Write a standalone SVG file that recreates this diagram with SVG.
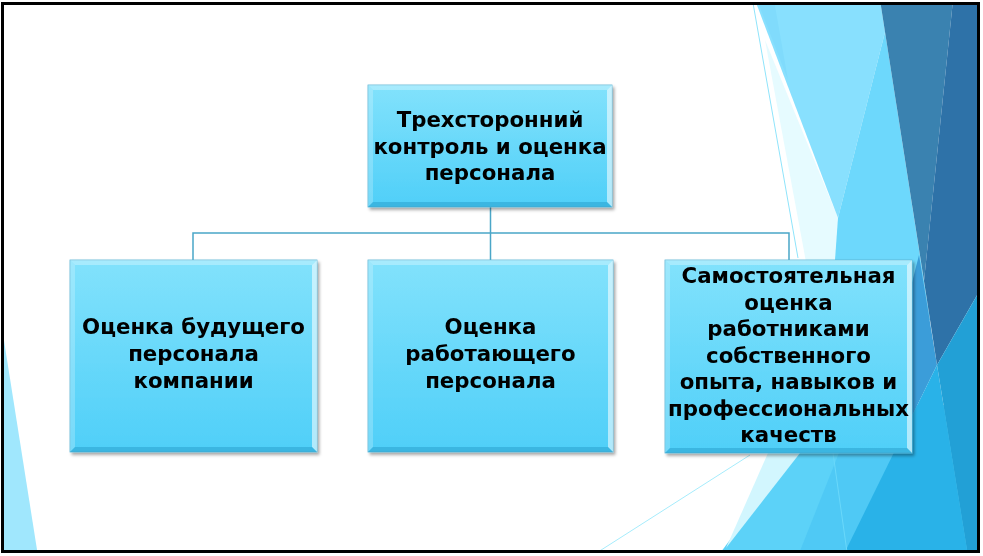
<svg xmlns="http://www.w3.org/2000/svg" width="983" height="556" viewBox="0 0 983 556">
<defs>
<style>
.t{font-family:"DejaVu Sans","Verdana",sans-serif;font-weight:bold;font-size:21.3px;fill:#000;text-anchor:middle}
.conn{fill:none;stroke:#4aa6c8;stroke-width:1.5}
.bt{fill:#fff;opacity:.3}
.bl{fill:#fff;opacity:.22}
.br{fill:#fff;opacity:.55}
.bb{fill:#1588b8;opacity:.35}
.box{fill:url(#g);stroke:#5ab6d6;stroke-width:.8}
</style>
<linearGradient id="g" x1="0" y1="0" x2="0" y2="1">
<stop offset="0" stop-color="#82e2fc"/>
<stop offset="1" stop-color="#4fcff8"/>
</linearGradient>
<filter id="sh" x="-10%" y="-10%" width="125%" height="125%">
<feDropShadow dx="2" dy="2.5" stdDeviation="1.8" flood-color="#000" flood-opacity=".35"/>
</filter>
<clipPath id="cp"><rect x="3" y="4" width="975" height="547"/></clipPath>
</defs>
<rect width="983" height="556" fill="#fff"/>
<g id="decor" clip-path="url(#cp)">
<polygon points="2,328 2,556 38,556" fill="#a0e7fd"/>
<polygon points="718,556 830,405 980,405 980,556" fill="#5cd2f8"/>
<polygon points="798,556 845,556 912,420 858,405" fill="#4fc9f5"/>
<polygon points="768,453 800,453 726,548" fill="#d2f6fe"/>
<polygon points="765,40 838,218 850,262 806,262" fill="#e6fbff"/>
<polygon points="755,0 880,0 885,32 838,218" fill="#88e0fe"/>
<polygon points="757,0 774,0 788,80" fill="#80dbfc"/>
<polygon points="885,32 930,320 912,330 830,330 838,218" fill="#6dd8fc"/>
<polygon points="919,255 937,365 912,416 900,330" fill="#3b9dd9"/>
<polygon points="880,0 953,0 924,281" fill="#3a82b0"/>
<polygon points="953,0 980,0 980,290 937,365 924,281" fill="#2e72a8"/>
<polygon points="937,365 968,556 843,556" fill="#29b2e8"/>
<polygon points="980,290 937,365 968,556 980,556" fill="#22a0d6"/>
<line x1="753" y1="3" x2="798" y2="258" stroke="#8fe4fb" stroke-width="1"/>
<line x1="598" y1="552" x2="750" y2="455" stroke="#a6ecfc" stroke-width="1"/>
<line x1="833" y1="453" x2="847" y2="552" stroke="#6ad8fa" stroke-width="1"/>
</g>
<rect x="2.5" y="3.5" width="976" height="548" fill="none" stroke="#000" stroke-width="3"/>
<g id="connectors">
<path class="conn" d="M490.5 207V233M193 260V233H789V260M490.5 233V260"/>
</g>
<g id="n-top" filter="url(#sh)">
<rect class="box" x="368" y="85" width="244" height="122"/>
<polygon class="bt" points="368,85 612,85 607,90 373,90"/>
<polygon class="bl" points="368,85 373,90 373,202 368,207"/>
<polygon class="br" points="612,85 612,207 607,202 607,90"/>
<polygon class="bb" points="368,207 612,207 607,202 373,202"/>
<text class="t" x="490" y="127">Трехсторонний</text>
<text class="t" x="490" y="153.5">контроль и оценка</text>
<text class="t" x="490" y="180">персонала</text>
</g>
<g id="n-left" filter="url(#sh)">
<rect class="box" x="70" y="260" width="247" height="192"/>
<polygon class="bt" points="70,260 317,260 312,265 75,265"/>
<polygon class="bl" points="70,260 75,265 75,447 70,452"/>
<polygon class="br" points="317,260 317,452 312,447 312,265"/>
<polygon class="bb" points="70,452 317,452 312,447 75,447"/>
<text class="t" x="193.5" y="334">Оценка будущего</text>
<text class="t" x="193.5" y="361">персонала</text>
<text class="t" x="193.5" y="388">компании</text>
</g>
<g id="n-mid" filter="url(#sh)">
<rect class="box" x="368" y="260" width="245" height="192"/>
<polygon class="bt" points="368,260 613,260 608,265 373,265"/>
<polygon class="bl" points="368,260 373,265 373,447 368,452"/>
<polygon class="br" points="613,260 613,452 608,447 608,265"/>
<polygon class="bb" points="368,452 613,452 608,447 373,447"/>
<text class="t" x="490.5" y="334">Оценка</text>
<text class="t" x="490.5" y="361">работающего</text>
<text class="t" x="490.5" y="388">персонала</text>
</g>
<g id="n-right" filter="url(#sh)">
<rect class="box" x="665" y="260" width="247" height="193"/>
<polygon class="bt" points="665,260 912,260 907,265 670,265"/>
<polygon class="bl" points="665,260 670,265 670,448 665,453"/>
<polygon class="br" points="912,260 912,453 907,448 907,265"/>
<polygon class="bb" points="665,453 912,453 907,448 670,448"/>
<text class="t" x="788.5" y="283">Самостоятельная</text>
<text class="t" x="788.5" y="309.5">оценка</text>
<text class="t" x="788.5" y="336">работниками</text>
<text class="t" x="788.5" y="362.5">собственного</text>
<text class="t" x="788.5" y="389">опыта, навыков и</text>
<text class="t" x="788.5" y="415.5">профессиональных</text>
<text class="t" x="788.5" y="442">качеств</text>
</g>
</svg>
